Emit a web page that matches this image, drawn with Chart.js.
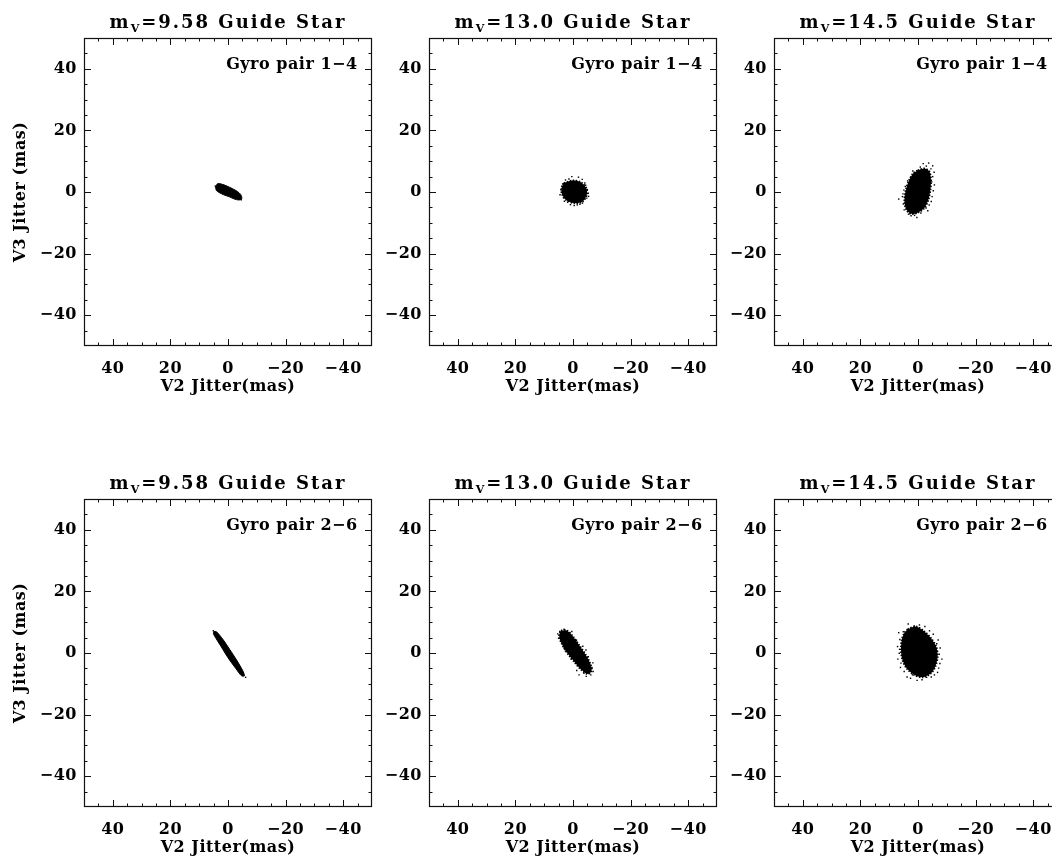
<!DOCTYPE html>
<html>
<head>
<meta charset="utf-8">
<title>Guide star jitter</title>
<script src="https://cdn.jsdelivr.net/npm/chart.js@4.4.1/dist/chart.umd.min.js"></script>
<style>
  html, body { margin: 0; padding: 0; background: #fff; }
  #page { position: relative; width: 1052px; height: 857px; overflow: hidden; background: #fff; }
  .panel { position: absolute; width: 380px; height: 400px; }
</style>
</head>
<body>
<div id="page">
  <div class="panel" style="left:0px;top:0px"><canvas id="p0" width="380" height="400"></canvas></div>
  <div class="panel" style="left:345px;top:0px"><canvas id="p1" width="380" height="400"></canvas></div>
  <div class="panel" style="left:690px;top:0px"><canvas id="p2" width="380" height="400"></canvas></div>
  <div class="panel" style="left:0px;top:461px"><canvas id="p3" width="380" height="400"></canvas></div>
  <div class="panel" style="left:345px;top:461px"><canvas id="p4" width="380" height="400"></canvas></div>
  <div class="panel" style="left:690px;top:461px"><canvas id="p5" width="380" height="400"></canvas></div>
</div>
<script>
// guide star magnitudes (columns) and gyro pairs (rows)
const magnitudes = ['9.58', '13.0', '14.5'];
const gyroPairs = ['1−4', '2−6'];

const majorTicks = [40, 20, 0, -20, -40];
const minorTicks = [45, 35, 30, 25, 15, 10, 5, -5, -10, -15, -25, -30, -35, -45];

// dense part of each jitter cloud, outline as [V2, V3] in mas
const core14_958 = [[4.3, 1.8], [3.6, 2.7], [2.0, 2.5], [0.3, 1.9], [-1.5, 1.1], [-3.2, 0.2], [-4.4, -0.8],
  [-4.8, -2.1], [-3.8, -2.6], [-2.0, -2.2], [-0.3, -1.5], [1.5, -0.9], [3.2, -0.1], [4.1, 0.6]];
const core14_130 = [[3.1, 2.9], [0.2, 3.7], [-2.7, 3.2], [-4.6, 1.3], [-4.8, -0.9], [-3.3, -3.1],
  [-0.4, -3.6], [2.5, -2.5], [3.9, -0.4], [3.9, 1.6]];
const core14_145 = [[0.1, 7.0], [-2.2, 7.6], [-3.9, 6.7], [-4.5, 4.0], [-4.3, 0.7], [-3.6, -2.5], [-2.2, -5.2],
  [0.1, -6.7], [2.4, -7.1], [4.0, -5.8], [4.7, -3.1], [4.2, 0.7], [3.0, 4.0], [1.6, 6.1]];
const core26_958 = [[4.9, 7.0], [4.0, 6.9], [1.6, 4.2], [-0.7, 1.0], [-3.0, -2.3], [-5.1, -5.7], [-5.7, -7.4],
  [-4.7, -7.4], [-2.6, -4.9], [0.1, -1.4], [2.4, 2.1], [4.4, 5.1], [5.1, 6.4]];
const core26_130 = [[4.2, 7.3], [2.2, 7.3], [0.2, 5.6], [-2.1, 2.6], [-4.4, -0.6], [-6.2, -3.9], [-6.4, -6.0],
  [-5.0, -6.8], [-2.7, -5.3], [-0.4, -2.8], [1.9, -0.1], [4.0, 3.2], [4.8, 5.6]];
const core26_145 = [[3.6, 7.7], [0.7, 8.6], [-2.2, 7.0], [-4.5, 4.8], [-6.3, 2.1], [-6.8, -1.2], [-6.0, -4.4],
  [-4.5, -6.6], [-1.6, -7.9], [1.3, -7.1], [4.0, -4.9], [5.4, -2.2], [5.9, 1.0], [5.6, 4.3], [4.8, 6.4]];

// scattered single samples around each cloud, [V2, V3] in mas
const stray14_958 = [[-4.6, -2.5], [4.4, 1.9]];
const stray14_130 = [[0.4, 5.0], [-1.9, 4.8], [1.4, 4.2], [-4.1, 2.9], [-5.3, -0.4], [4.2, 0.7], [3.3, -1.8],
  [-0.4, -4.4], [-1.5, -4.2], [-4.8, -2.0], [1.9, -3.3], [-3.3, -3.6], [-4.4, 2.2], [2.6, 3.9],
  [3.6, 2.6], [-5.0, 0.8], [-2.4, -4.0], [0.9, -4.1], [4.5, -0.9], [-3.2, 4.1], [3.0, -3.0], [-5.4, -1.4]];
const stray14_145 = [[-1.8, 9.2], [-3.7, 9.4], [-5.1, 8.5], [-4.5, 7.5], [-5.7, 2.3], [6.7, -2.3], [5.4, -1.5],
  [4.8, -5.8], [2.4, -7.7], [0.4, -8.3], [-2.8, -5.2], [-4.9, -1.5], [-5.1, 5.0], [4.4, 1.8], [-3.9, -4.2],
  [-2.9, 8.4], [-4.8, 3.3], [3.3, -7.2], [5.1, -3.9], [-1.0, -6.8], [-5.3, 0.4], [-4.6, -3.1], [5.2, -0.6],
  [3.6, 3.6], [1.8, 6.8], [-0.8, 8.1], [-5.6, 6.4], [1.2, -7.6], [-3.4, -6.1], [4.9, 0.6]];
const stray26_958 = [[-6.1, -7.9], [5.1, 7.2]];
const stray26_130 = [[4.6, 7.0], [3.1, 7.7], [4.2, 4.3], [-4.5, 1.0], [-5.3, -1.2], [-2.1, -7.1], [-6.2, -7.1],
  [-1.3, -5.7], [0.4, 7.0], [3.1, 1.6], [-6.6, -4.8], [-4.6, -7.6], [1.2, 6.3], [5.0, 4.8],
  [-3.4, 2.2], [-6.9, -3.2], [-3.8, -6.6], [2.6, 0.6], [5.3, 6.2], [-1.2, 4.1], [-7.0, -6.0], [0.7, -2.0]];
const stray26_145 = [[3.4, 9.4], [6.7, 6.6], [7.1, 2.1], [6.5, -0.1], [-7.7, 1.6], [-8.3, -2.0], [-7.2, -4.9],
  [-1.4, -8.7], [-3.0, -7.9], [1.9, -7.1], [4.8, -6.0], [-0.5, 9.1], [5.9, -3.3], [-5.7, -7.1], [1.3, 8.8],
  [-5.3, 6.1], [-7.0, 4.2], [6.3, 4.4], [-2.4, 8.6], [3.8, -7.8], [-6.8, -6.3], [7.0, -2.0],
  [6.4, 1.2], [-7.4, -0.4], [-6.5, 3.0], [5.1, 6.9], [-4.0, 7.2], [2.6, -8.2], [-4.6, -7.8], [-7.6, -3.4],
  [6.1, -4.7], [0.3, -8.9]];

const cores = [[core14_958, core14_130, core14_145], [core26_958, core26_130, core26_145]];
const strays = [[stray14_958, stray14_130, stray14_145], [stray26_958, stray26_130, stray26_145]];

const FONT = 'DejaVu Serif';
const toXY = pts => pts.map(([x, y]) => ({x, y}));
const fmtTick = v => v < 0 ? '−' + Math.abs(v) : String(v);
const textFont = {family: FONT, size: 16, weight: 'bold'};

// IDL-style box: inward ticks on all four sides, title with subscript, gyro pair note
const idlBox = {
  id: 'idlBox',
  beforeDraw(chart) {
    chart.ctx.letterSpacing = '0.5px';
  },
  afterDraw(chart, args, opts) {
    const {ctx, chartArea: a, scales: {x, y}} = chart;
    ctx.save();
    ctx.strokeStyle = '#111';
    ctx.lineWidth = 1.2;
    ctx.strokeRect(a.left + 0.5, a.top + 0.5, a.right - a.left - 1, a.bottom - a.top - 1);
    ctx.lineWidth = 1;
    ctx.beginPath();
    const marks = (vals, len) => {
      vals.forEach(v => {
        const px = Math.round(x.getPixelForValue(v)) + 0.5;
        ctx.moveTo(px, a.bottom); ctx.lineTo(px, a.bottom - len);
        ctx.moveTo(px, a.top); ctx.lineTo(px, a.top + len);
        const py = Math.round(y.getPixelForValue(v)) + 0.5;
        ctx.moveTo(a.left, py); ctx.lineTo(a.left + len, py);
        ctx.moveTo(a.right, py); ctx.lineTo(a.right - len, py);
      });
    };
    marks(majorTicks, 7);
    marks(minorTicks, 3.5);
    ctx.stroke();

    // title: m_V=<mag> Guide Star
    ctx.fillStyle = '#000';
    ctx.letterSpacing = '2px';
    const big = 'bold 18px "' + FONT + '"', small = 'bold 11px "' + FONT + '"';
    const rest = '=' + opts.mag + ' Guide Star';
    ctx.font = big;
    const wM = ctx.measureText('m').width, wRest = ctx.measureText(rest).width;
    ctx.font = small;
    const wV = ctx.measureText('V').width;
    let tx = (a.left + a.right) / 2 - (wM + wV + wRest) / 2;
    const ty = a.top - 10;
    ctx.textAlign = 'left';
    ctx.textBaseline = 'alphabetic';
    ctx.font = big; ctx.fillText('m', tx, ty); tx += wM;
    ctx.font = small; ctx.fillText('V', tx, ty + 4); tx += wV;
    ctx.font = big; ctx.fillText(rest, tx, ty);

    // gyro pair note, anchored in data coordinates
    ctx.letterSpacing = '0.5px';
    ctx.font = 'bold 16px "' + FONT + '"';
    ctx.textAlign = 'right';
    ctx.fillText('Gyro pair ' + opts.pair, x.getPixelForValue(-45), y.getPixelForValue(40));
    ctx.restore();
  }
};

function makePanel(row, col) {
  const canvas = document.getElementById('p' + (row * 3 + col));
  const grainy = col > 0;
  return new Chart(canvas, {
    type: 'scatter',
    data: {
      datasets: [
        {
          type: 'line',
          data: toXY(cores[row][col].concat([cores[row][col][0]])),
          fill: 'shape',
          backgroundColor: '#000',
          borderColor: '#000',
          borderWidth: grainy ? 2 : 1,
          borderDash: grainy ? [1.5, 1.5] : [],
          pointRadius: 0,
          tension: 0.3
        },
        {
          data: toXY(strays[row][col]),
          pointStyle: 'rect',
          pointRadius: 1,
          backgroundColor: '#000',
          borderWidth: 0
        }
      ]
    },
    options: {
      responsive: false,
      animation: false,
      events: [],
      layout: {padding: {top: 38, right: 8, left: 0, bottom: 0}},
      plugins: {
        legend: {display: false},
        tooltip: {enabled: false},
        idlBox: {mag: magnitudes[col], pair: gyroPairs[row]}
      },
      scales: {
        x: {
          type: 'linear',
          min: -50, max: 50,
          reverse: true,
          grid: {display: false, drawTicks: false},
          border: {display: false},
          afterBuildTicks: s => { s.ticks = majorTicks.map(v => ({value: v})); },
          afterFit: s => { s.height = 54; },
          ticks: {callback: fmtTick, padding: 13, maxRotation: 0, color: '#000', font: textFont},
          title: {
            display: true,
            text: 'V2 Jitter(mas)',
            color: '#000',
            font: textFont,
            padding: {top: 0, bottom: 4}
          }
        },
        y: {
          type: 'linear',
          min: -50, max: 50,
          grid: {display: false, drawTicks: false},
          border: {display: false},
          afterBuildTicks: s => { s.ticks = majorTicks.map(v => ({value: v})); },
          afterFit: s => { s.width = 84; },
          ticks: {callback: fmtTick, padding: 7, color: '#000', font: textFont},
          title: {
            display: col === 0,
            text: 'V3 Jitter (mas)',
            color: '#000',
            font: textFont,
            padding: {top: 11, bottom: 0}
          }
        }
      }
    },
    plugins: [idlBox]
  });
}

for (let r = 0; r < gyroPairs.length; r++) {
  for (let c = 0; c < magnitudes.length; c++) makePanel(r, c);
}
</script>
</body>
</html>
